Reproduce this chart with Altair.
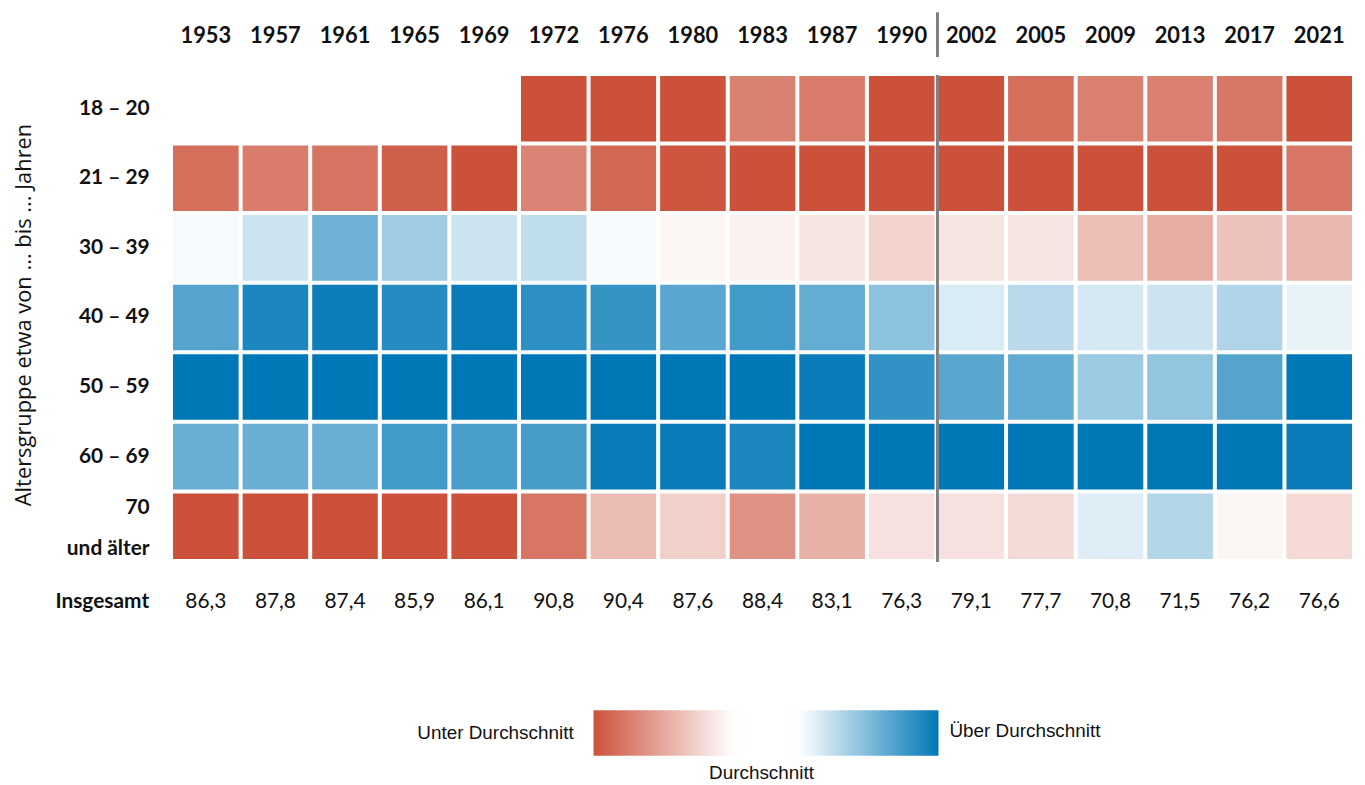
import altair as alt
import pandas as pd

years = ["1953", "1957", "1961", "1965", "1969", "1972", "1976", "1980", "1983",
         "1987", "1990", "2002", "2005", "2009", "2013", "2017", "2021"]
age_groups = ["18 – 20", "21 – 29", "30 – 39", "40 – 49", "50 – 59", "60 – 69", "70 und älter"]

# Abweichung vom Durchschnitt (relative Intensität, -1 = stark unter, +1 = stark über)
r18_20 = [None, None, None, None, None, -1, -1, -1, -0.72, -0.75, -1, -1, -0.83, -0.73, -0.73, -0.78, -1]
r21_29 = [-0.83, -0.75, -0.8, -0.92, -1, -0.71, -0.87, -0.97, -1, -1, -1, -1, -1, -1, -1, -1, -0.79]
r30_39 = [0.035, 0.2, 0.57, 0.37, 0.2, 0.25, 0.035, -0.05, -0.075, -0.15, -0.25, -0.15, -0.15, -0.37, -0.47, -0.35, -0.41]
r40_49 = [0.67, 0.89, 0.95, 0.85, 0.97, 0.82, 0.79, 0.65, 0.74, 0.61, 0.45, 0.15, 0.27, 0.17, 0.2, 0.31, 0.09]
r50_59 = [1, 1, 1, 1, 1, 1, 1, 1, 1, 0.96, 0.8, 0.65, 0.62, 0.39, 0.43, 0.67, 1]
r60_69 = [0.59, 0.59, 0.59, 0.74, 0.71, 0.72, 0.96, 0.96, 0.89, 1, 1, 1, 1, 1, 1, 1, 0.96]
r70 = [-1, -1, -1, -1, -1, -0.79, -0.38, -0.27, -0.63, -0.45, -0.17, -0.17, -0.21, 0.13, 0.3, -0.05, -0.22]

insgesamt = [86.3, 87.8, 87.4, 85.9, 86.1, 90.8, 90.4, 87.6, 88.4, 83.1, 76.3,
             79.1, 77.7, 70.8, 71.5, 76.2, 76.6]

series = [r18_20, r21_29, r30_39, r40_49, r50_59, r60_69, r70]
rows = []
for g, vals in zip(age_groups, series):
    for y, v in zip(years, vals):
        if v is not None:
            rows.append({"Jahr": y, "Alter": g, "t": v})
df = pd.DataFrame(rows)
tot = pd.DataFrame({"Jahr": years, "Insgesamt": insgesamt})

FONT = "Lato"
RED = "#cc513b"
BLUE = "#0077b6"
TXT = "#111111"

band = dict(paddingInner=4 / 70, paddingOuter=2 / 70)


def x_axis():
    return alt.Axis(orient="top", title=None, labelAngle=0, domain=False, ticks=False,
                    tickSize=0, labelPadding=32, labelBaseline="alphabetic", labelFont=FONT,
                    labelFontSize=22, labelFontWeight="bold", labelColor=TXT)


y_axis = alt.Axis(title="Altersgruppe etwa von ... bis ... Jahren", domain=False, ticks=False,
                  tickSize=0, labelPadding=22, labelFont=FONT, labelFontSize=21,
                  labelFontWeight="bold", labelColor=TXT,
                  labelBaseline={"condition": {"test": "datum.value == '70 und älter'",
                                               "value": "line-bottom"},
                                 "value": "middle"},
                  labelOffset={"condition": {"test": "datum.value == '70 und älter'",
                                             "value": 2},
                               "value": 0},
                  labelLineHeight=41,
                  labelExpr="datum.value == '70 und älter' ? ['70', 'und älter'] : datum.value",
                  titleFont="Open Sans", titleFontSize=22, titleFontWeight="normal",
                  titleColor=TXT, titleX=-148, titleY=242, titleAngle=-90,
                  titleAlign="center", titleBaseline="middle")

heat = alt.Chart(df).transform_calculate(
    c="datum.t > 0 ? 0.19 + 0.81 * datum.t : (datum.t < 0 ? -0.19 + 0.81 * datum.t : 0)"
).mark_rect().encode(
    x=alt.X("Jahr:N", sort=years, scale=alt.Scale(domain=years, **band), axis=x_axis()),
    y=alt.Y("Alter:N", sort=age_groups, scale=alt.Scale(domain=age_groups, **band), axis=y_axis),
    color=alt.Color("c:Q",
                    scale=alt.Scale(domain=[-1, -0.19, 0.19, 1],
                                    range=[RED, "#ffffff", "#ffffff", BLUE],
                                    interpolate="rgb", clamp=True),
                    legend=alt.Legend(orient="none", legendX=425, legendY=640,
                                      direction="horizontal", gradientLength=347,
                                      gradientThickness=46, labelOpacity=0, labelFontSize=1,
                                      title=None, gradientStrokeWidth=0, padding=0)),
)

one = pd.DataFrame({"k": [0]})

rule_top = alt.Chart(one).mark_rule(color="#808080", strokeWidth=3).encode(
    x=alt.value(771), y=alt.value(-62), y2=alt.value(-17))
rule_main = alt.Chart(one).mark_rule(color="#808080", strokeWidth=3).encode(
    x=alt.value(771), y=alt.value(1), y2=alt.value(491))

totals = alt.Chart(tot).transform_calculate(
    label="replace(format(datum.Insgesamt, '.1f'), '.', ',')"
).mark_text(font=FONT, fontSize=21, color=TXT, baseline="middle").encode(
    x=alt.X("Jahr:N", sort=years, axis=x_axis()),
    y=alt.value(531),
    text="label:N",
)

tot_label = alt.Chart(pd.DataFrame({"t": ["Insgesamt"]})).mark_text(
    font=FONT, fontSize=21, fontWeight="bold", color=TXT, align="right", baseline="middle"
).encode(x=alt.value(-22), y=alt.value(531), text="t:N")

leg_unter = alt.Chart(pd.DataFrame({"t": ["Unter Durchschnitt"]})).mark_text(
    font="Liberation Sans", fontSize=19, color=TXT, align="right", baseline="middle"
).encode(x=alt.value(405), y=alt.value(663), text="t:N")
leg_ueber = alt.Chart(pd.DataFrame({"t": ["Über Durchschnitt"]})).mark_text(
    font="Liberation Sans", fontSize=19, color=TXT, align="left", baseline="middle"
).encode(x=alt.value(783), y=alt.value(661), text="t:N")
leg_mid = alt.Chart(pd.DataFrame({"t": ["Durchschnitt"]})).mark_text(
    font="Liberation Sans", fontSize=19, color=TXT, align="center", baseline="middle"
).encode(x=alt.value(594), y=alt.value(703), text="t:N")

chart = alt.layer(heat, rule_top, rule_main, totals, tot_label, leg_unter, leg_ueber, leg_mid).properties(
    width=1190,
    height=490,
    autosize=alt.AutoSizeParams(type="none"),
    padding={"left": 164, "top": 64, "right": 3, "bottom": 223},
    background="white",
).configure_view(strokeWidth=0).configure_legend(gradientHorizontalMaxLength=400)

chart.save("out.html", embed_options={"renderer": "svg", "actions": False})
